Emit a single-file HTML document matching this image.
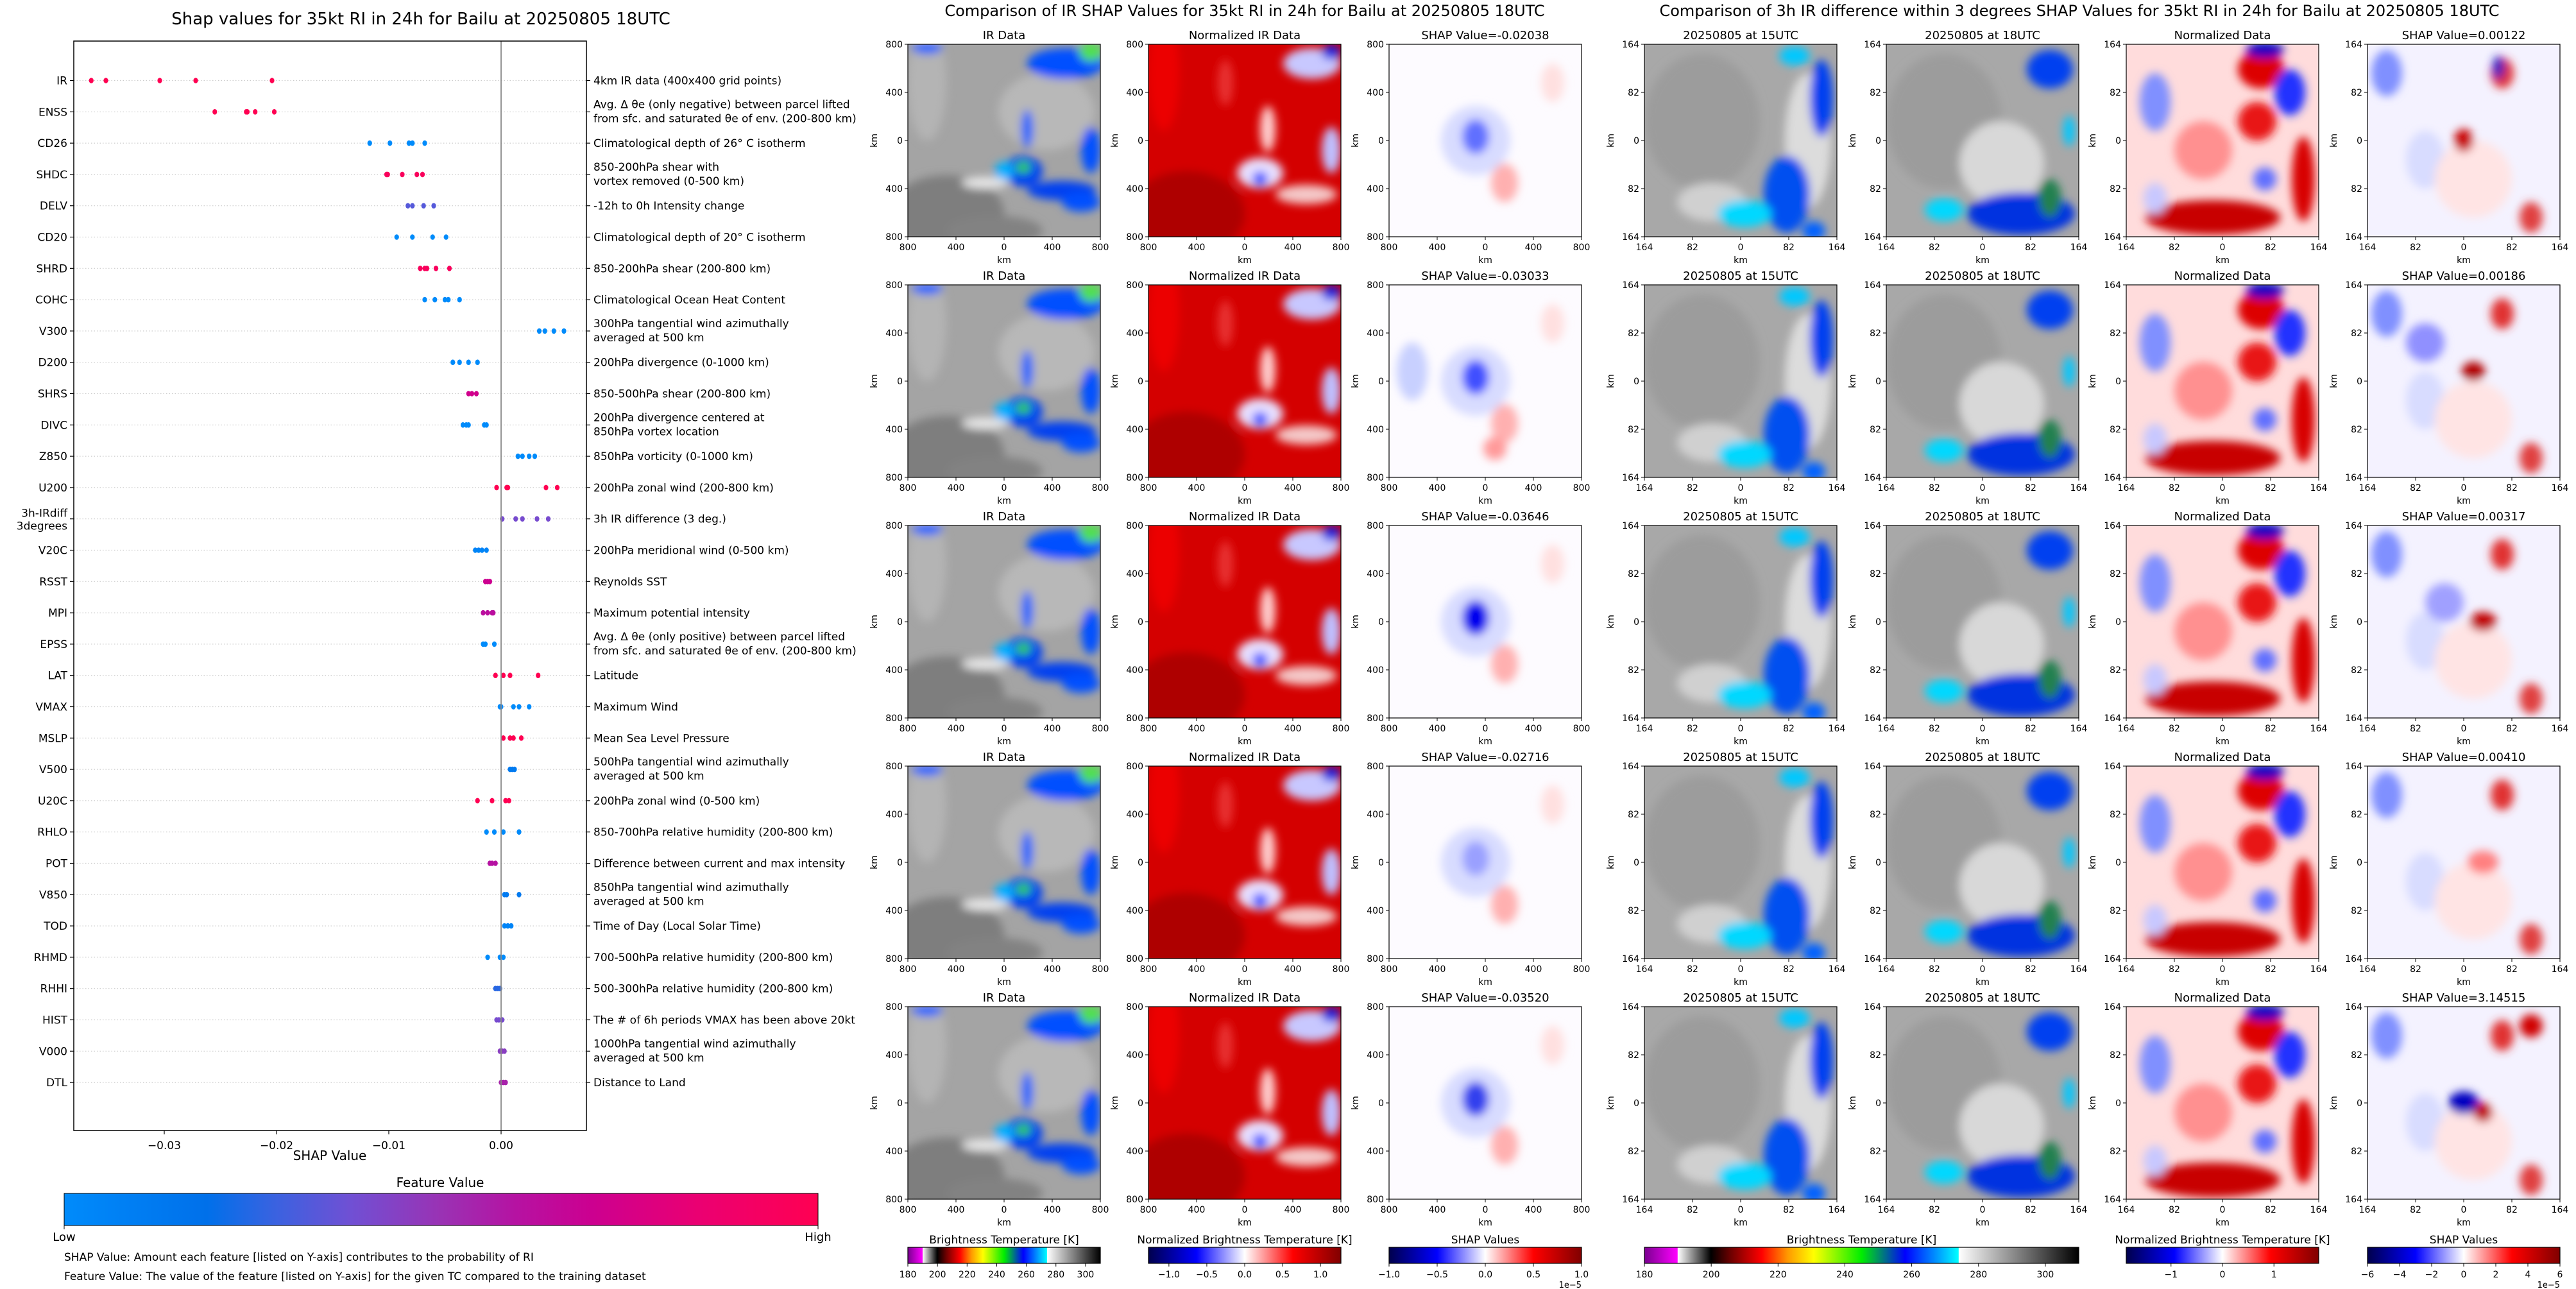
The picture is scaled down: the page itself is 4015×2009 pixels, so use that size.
<!DOCTYPE html>
<html><head><meta charset="utf-8">
<style>
html,body{margin:0;padding:0;background:#fff;}
svg{display:block;font-family:"DejaVu Sans","Liberation Sans",sans-serif;}
</style></head>
<body>
<svg id="root" width="4015" height="2009" viewBox="0 0 4015 2009" xmlns="http://www.w3.org/2000/svg">
<defs>
<filter id="blur" x="-50%" y="-50%" width="200%" height="200%"><feGaussianBlur stdDeviation="7"/></filter>
<linearGradient id="featgrad" x1="0" x2="1" y1="0" y2="0">
<stop offset="0" stop-color="#008bfb"/><stop offset="0.19" stop-color="#0070ea"/><stop offset="0.28" stop-color="#3a62e0"/><stop offset="0.38" stop-color="#7050d4"/><stop offset="0.5" stop-color="#9a32b4"/><stop offset="0.6" stop-color="#b612a2"/><stop offset="0.7" stop-color="#cc0090"/><stop offset="0.85" stop-color="#ec0070"/><stop offset="1" stop-color="#ff0052"/>
</linearGradient>
<linearGradient id="btgrad" x1="0" x2="1" y1="0" y2="0">
<stop offset="0" stop-color="#7a0090"/><stop offset="0.076" stop-color="#ff00ff"/><stop offset="0.077" stop-color="#ffffff"/><stop offset="0.153" stop-color="#000000"/><stop offset="0.2" stop-color="#700000"/><stop offset="0.27" stop-color="#ff0000"/><stop offset="0.33" stop-color="#ff9900"/><stop offset="0.39" stop-color="#ffff00"/><stop offset="0.5" stop-color="#00ee00"/><stop offset="0.6" stop-color="#0000ff"/><stop offset="0.67" stop-color="#0090ff"/><stop offset="0.723" stop-color="#00ffff"/><stop offset="0.724" stop-color="#ffffff"/><stop offset="1" stop-color="#000000"/>
</linearGradient>
<linearGradient id="seisgrad" x1="0" x2="1" y1="0" y2="0">
<stop offset="0" stop-color="#00004c"/><stop offset="0.25" stop-color="#0000ff"/><stop offset="0.5" stop-color="#ffffff"/><stop offset="0.75" stop-color="#ff0000"/><stop offset="1" stop-color="#800000"/>
</linearGradient>
</defs>
<g id="layer"></g>
</svg>
<script>
// ---------- SHAP summary data ----------
const features = ["IR","ENSS","CD26","SHDC","DELV","CD20","SHRD","COHC","V300","D200","SHRS","DIVC","Z850","U200","3h-IRdiff|3degrees","V20C","RSST","MPI","EPSS","LAT","VMAX","MSLP","V500","U20C","RHLO","POT","V850","TOD","RHMD","RHHI","HIST","V000","DTL"];
const featureDescriptions = ["4km IR data (400x400 grid points)","Avg. Δ θe (only negative) between parcel lifted|from sfc. and saturated θe of env. (200-800 km)","Climatological depth of 26° C isotherm","850-200hPa shear with|vortex removed (0-500 km)","-12h to 0h Intensity change","Climatological depth of 20° C isotherm","850-200hPa shear (200-800 km)","Climatological Ocean Heat Content","300hPa tangential wind azimuthally|averaged at 500 km","200hPa divergence (0-1000 km)","850-500hPa shear (200-800 km)","200hPa divergence centered at|850hPa vortex location","850hPa vorticity (0-1000 km)","200hPa zonal wind (200-800 km)","3h IR difference (3 deg.)","200hPa meridional wind (0-500 km)","Reynolds SST","Maximum potential intensity","Avg. Δ θe (only positive) between parcel lifted|from sfc. and saturated θe of env. (200-800 km)","Latitude","Maximum Wind","Mean Sea Level Pressure","500hPa tangential wind azimuthally|averaged at 500 km","200hPa zonal wind (0-500 km)","850-700hPa relative humidity (200-800 km)","Difference between current and max intensity","850hPa tangential wind azimuthally|averaged at 500 km","Time of Day (Local Solar Time)","700-500hPa relative humidity (200-800 km)","500-300hPa relative humidity (200-800 km)","The # of 6h periods VMAX has been above 20kt","1000hPa tangential wind azimuthally|averaged at 500 km","Distance to Land"];
const shapValues = [
[-0.0365,-0.0352,-0.0304,-0.0272,-0.0204],
[-0.0255,-0.0227,-0.0226,-0.0219,-0.0202],
[-0.0117,-0.0099,-0.0082,-0.0079,-0.0068],
[-0.0102,-0.0101,-0.0088,-0.0075,-0.0070],
[-0.0083,-0.0079,-0.0069,-0.0060],
[-0.0093,-0.0079,-0.0061,-0.0049],
[-0.0072,-0.0068,-0.0066,-0.0058,-0.0046],
[-0.0068,-0.0059,-0.0050,-0.0047,-0.0037],
[0.0034,0.0039,0.0047,0.0056],
[-0.0043,-0.0037,-0.0029,-0.0021],
[-0.0029,-0.0026,-0.0022],
[-0.0034,-0.0031,-0.0029,-0.0015,-0.0013],
[0.0015,0.0019,0.0025,0.0030],
[-0.0004,0.0005,0.0006,0.0040,0.0050],
[0.0001,0.0013,0.0019,0.0032,0.0042],
[-0.0023,-0.0020,-0.0017,-0.0013],
[-0.0014,-0.0012,-0.0010],
[-0.0016,-0.0012,-0.0008,-0.0007],
[-0.0016,-0.0014,-0.0006],
[-0.0005,0.0002,0.0008,0.0033],
[-0.0001,0.0000,0.0011,0.0016,0.0025],
[0.0002,0.0008,0.0011,0.0018],
[0.0008,0.0010,0.0012],
[-0.0021,-0.0008,0.0004,0.0007],
[-0.0013,-0.0006,0.0002,0.0016],
[-0.0010,-0.0008,-0.0005],
[0.0003,0.0005,0.0016],
[0.0003,0.0006,0.0009],
[-0.0012,-0.0001,0.0002],
[-0.0005,-0.0003,-0.0001],
[-0.0004,-0.0002,0.0001],
[-0.0001,0.0001,0.0003],
[0.0000,0.0002,0.0004]];
const featureLevels = [1,1,0,0.95,0.33,0,0.95,0,0,0,0.72,0,0,1,0.4,0.05,0.7,0.62,0,1,0,1,0.12,1,0,0.6,0.12,0.05,0,0.25,0.4,0.45,0.55];
const xTicks = [-0.03,-0.02,-0.01,0.00];
const xTickLabels = ["\u22120.03","\u22120.02","\u22120.01","0.00"];

// ---------- colorbar tick data ----------
const btTicks = [180,200,220,240,260,280,300];
const normTicksMid = [-1.0,-0.5,0.0,0.5,1.0];
const shapTicksMid = [-1.0,-0.5,0.0,0.5,1.0];
const normTicksRight = [-1,0,1];
const shapTicksRight = [-6,-4,-2,0,2,4,6];
const midShapTitles = ["-0.02038","-0.03033","-0.03646","-0.02716","-0.03520"];
const rightShapTitles = ["0.00122","0.00186","0.00317","0.00410","3.14515"];

const NS="http://www.w3.org/2000/svg";
const layer=document.getElementById('layer');
function mk(tag,attrs,parent){const e=document.createElementNS(NS,tag);for(const k in attrs)e.setAttribute(k,attrs[k]);(parent||layer).appendChild(e);return e;}
function txt(s,x,y,size,anchor,parent,extra){const t=mk('text',Object.assign({x:x,y:y,'font-size':size,'text-anchor':anchor||'start',fill:'#000'},extra||{}),parent);t.textContent=s;return t;}

const cstops=[[0,[0,139,251]],[0.19,[0,112,234]],[0.28,[58,98,224]],[0.38,[112,80,212]],[0.5,[154,50,180]],[0.6,[182,18,162]],[0.7,[204,0,144]],[0.85,[236,0,112]],[1,[255,0,82]]];
function fcol(v){for(let i=1;i<cstops.length;i++){if(v<=cstops[i][0]){const a=cstops[i-1],b=cstops[i];const t=(v-a[0])/(b[0]-a[0]);const c=a[1].map((x,j)=>Math.round(x+(b[1][j]-x)*t));return `rgb(${c})`;}}return 'rgb(255,0,82)';}

// ---------- left chart ----------
const PL=115,PR=914,PT=64,PB=1762;
const xScale=v=>781+v*17500;
const rowY=i=>125.5+i*48.8;
const left=mk('g',{});


const t1=txt("Shap values for 35kt RI in 24h for Bailu at 20250805 18UTC",656,38,26,'middle',left);


features.forEach((f,i)=>{
  const y=rowY(i);
  mk('line',{x1:PL,x2:PR,y1:y,y2:y,stroke:'#ccc','stroke-width':1.2,'stroke-dasharray':'1.5,3'},left);
  mk('line',{x1:PL-6,x2:PL,y1:y,y2:y,stroke:'#000','stroke-width':1.2},left);
  mk('line',{x1:PR,x2:PR+6,y1:y,y2:y,stroke:'#000','stroke-width':1.2},left);
  const parts=f.split('|');
  const lab=mk('g',{},left);
  
  
  if(parts.length===1)txt(parts[0],PL-10,y+6,17,'end',lab);
  else{txt(parts[0],PL-10,y-3,17,'end',lab);txt(parts[1],PL-10,y+17,17,'end',lab);}
  const d=featureDescriptions[i].split('|');
  const dg=mk('g',{},left);
  
  
  if(d.length===1)txt(d[0],PR+11,y+6,17,'start',dg);
  else{txt(d[0],PR+11,y-6,17,'start',dg);txt(d[1],PR+11,y+16,17,'start',dg);}
  const col=fcol(featureLevels[i]);
  shapValues[i].forEach(v=>{
    const c=mk('ellipse',{cx:xScale(v),cy:y,rx:3.6,ry:4.3,fill:col},left);
    
    
  });
});
mk('line',{x1:xScale(0),x2:xScale(0),y1:PT,y2:PB,stroke:'#888','stroke-width':1.8},left);
const frame=mk('rect',{x:PL,y:PT,width:PR-PL,height:PB-PT,fill:'none',stroke:'#000','stroke-width':1.5},left);


xTicks.forEach((v,i)=>{
  const x=xScale(v);
  mk('line',{x1:x,x2:x,y1:PB,y2:PB+6,stroke:'#000','stroke-width':1.2},left);
  const tl=txt(xTickLabels[i],x,PB+29,17,'middle',left);
  
  
});
const xl=txt("SHAP Value",514,1808,20,'middle',left);


const fvt=txt("Feature Value",686,1850,20,'middle',left);


const fcb=mk('rect',{x:100,y:1860,width:1175,height:50,fill:'url(#featgrad)',stroke:'#000','stroke-width':1},left);


mk('line',{x1:100,x2:100,y1:1910,y2:1916,stroke:'#000'},left);
mk('line',{x1:1275,x2:1275,y1:1910,y2:1916,stroke:'#000'},left);
const lo=txt("Low",100,1934,18,'middle',left);


const hi=txt("High",1275,1934,18,'middle',left);


const n1=txt("SHAP Value: Amount each feature [listed on Y-axis] contributes to the probability of RI",100,1965,17,'start',left);


const n2=txt("Feature Value: The value of the feature [listed on Y-axis] for the given TC compared to the training dataset",100,1995,17,'start',left);



// ---------- image panels ----------
const rowTops=[69,444,819,1194,1569];
const midCols=[1415,1790,2165];
const rightCols=[2563,2940,3314,3690];
const S=300;
let clipId=0;
const blobSets={
 ir:{base:'#a4a4a4',blobs:[[0.2,0.88,0.3,0.2,'#7e7e7e'],[0.72,0.35,0.25,0.2,'#b8b8b8'],[0.1,0.2,0.1,0.3,'#b4b4b4'],[0.45,0.97,0.25,0.08,'#828282'],[0.6,0.66,0.1,0.08,'#0040f0'],[0.5,0.66,0.05,0.05,'#00b0ff'],[0.8,0.76,0.18,0.05,'#0040f0'],[0.9,0.82,0.1,0.05,'#0050ff'],[0.82,0.1,0.2,0.08,'#0050ff'],[0.95,0.04,0.06,0.05,'#50e050'],[0.95,0.55,0.05,0.12,'#0050ff'],[0.6,0.64,0.04,0.03,'#30d030'],[0.62,0.44,0.03,0.1,'#0060ff'],[0.4,0.72,0.12,0.03,'#e8e8e8'],[0.1,0.02,0.08,0.03,'#0060ff']]},
 norm:{base:'#d40000',blobs:[[0.2,0.88,0.3,0.22,'#ae0000'],[0.08,0.15,0.08,0.3,'#ec0000'],[0.58,0.67,0.12,0.08,'#e8e0ff'],[0.58,0.7,0.04,0.04,'#4050ff'],[0.82,0.78,0.16,0.05,'#f4c8c8'],[0.85,0.1,0.15,0.08,'#c8c8ff'],[0.95,0.04,0.05,0.04,'#2020e0'],[0.95,0.55,0.05,0.12,'#c0c0ff'],[0.62,0.44,0.04,0.12,'#ffd0d0'],[0.4,0.2,0.04,0.12,'#e83030']]},
 ir15:{base:'#a8a8a8',blobs:[[0.3,0.4,0.3,0.35,'#9c9c9c'],[0.85,0.5,0.12,0.35,'#dcdcdc'],[0.35,0.82,0.18,0.1,'#d0d0d0'],[0.74,0.78,0.12,0.2,'#0050f0'],[0.52,0.88,0.14,0.07,'#00d8ff'],[0.92,0.28,0.06,0.2,'#0040f0'],[0.78,0.06,0.08,0.05,'#00c8ff'],[0.88,0.97,0.06,0.05,'#0060ff']]},
 ir18:{base:'#a8a8a8',blobs:[[0.3,0.4,0.3,0.35,'#9c9c9c'],[0.6,0.62,0.22,0.22,'#d8d8d8'],[0.85,0.13,0.12,0.1,'#0040f0'],[0.7,0.88,0.28,0.11,'#0030e0'],[0.3,0.86,0.1,0.06,'#00d8ff'],[0.85,0.8,0.06,0.1,'#208050'],[0.95,0.45,0.03,0.08,'#00c8ff']]},
 normR:{base:'#ffdcdc',blobs:[[0.7,0.13,0.12,0.1,'#dd0000'],[0.72,0.03,0.1,0.04,'#0000c0'],[0.85,0.25,0.08,0.12,'#2030ff'],[0.68,0.4,0.1,0.1,'#e81818'],[0.45,0.9,0.35,0.09,'#c80000'],[0.92,0.7,0.06,0.22,'#d80000'],[0.15,0.3,0.08,0.15,'#8090ff'],[0.72,0.7,0.06,0.06,'#6070ff'],[0.4,0.55,0.15,0.15,'#ff9090'],[0.15,0.8,0.06,0.08,'#c8c8ff']]}
};
function shapBlobs(row,right){
  if(right){
    const b=[[0.1,0.15,0.08,0.12,'#8090ff'],[0.7,0.15,0.06,0.08,'#e03030'],[0.3,0.6,0.1,0.15,'#d8dcff'],[0.85,0.9,0.06,0.08,'#e04040'],[0.55,0.7,0.2,0.2,'#ffe4e4']];
    if(row===0) b.push([0.5,0.5,0.05,0.06,'#c80000'],[0.68,0.12,0.03,0.06,'#2020c0']);
    if(row===1) b.push([0.55,0.45,0.06,0.05,'#b00000'],[0.3,0.3,0.1,0.1,'#9090ff']);
    if(row===2) b.push([0.6,0.5,0.07,0.05,'#c00000'],[0.4,0.4,0.1,0.1,'#a0a0ff']);
    if(row===3) b.push([0.6,0.5,0.08,0.06,'#ff8080']);
    if(row===4) b.push([0.5,0.5,0.08,0.06,'#0000c0'],[0.6,0.55,0.05,0.05,'#c00000'],[0.85,0.1,0.06,0.06,'#d00000']);
    return {base:'#f4f2ff',blobs:b};
  }
  const strength=['#6070ff','#4050ff','#0000ee','#9aa0ff','#3040ee'][row];
  const b=[[0.45,0.5,0.18,0.18,'#d8dcff'],[0.45,0.48,0.07,0.09,strength],[0.6,0.72,0.07,0.1,'#ffb0b0'],[0.85,0.2,0.06,0.1,'#ffe0e0']];
  if(row===1) b.push([0.12,0.45,0.08,0.15,'#c8d0ff'],[0.55,0.85,0.06,0.06,'#ff9a9a']);
  return {base:'#fdfbff',blobs:b};
}
function panel(x,y,spec,title,ticks,name){
  const g=mk('g',{});
  
  
  const id='c'+(clipId++);
  const cp=mk('clipPath',{id:id},g);
  mk('rect',{x:x,y:y,width:S,height:S},cp);
  const ig=mk('g',{'clip-path':`url(#${id})`},g);
  mk('rect',{x:x,y:y,width:S,height:S,fill:spec.base},ig);
  const bg=mk('g',{filter:'url(#blur)'},ig);
  spec.blobs.forEach(b=>mk('ellipse',{cx:x+b[0]*S,cy:y+b[1]*S,rx:b[2]*S,ry:b[3]*S,fill:b[4]},bg));
  mk('rect',{x:x,y:y,width:S,height:S,fill:'none',stroke:'#000','stroke-width':1.2},g);
  const tt=txt(title,x+S/2,y-8,18,'middle',g);
  
  
  ticks.forEach((t,i)=>{
    const p=i*S/4;
    mk('line',{x1:x-5,x2:x,y1:y+p,y2:y+p,stroke:'#000'},g);
    txt(t,x-8,y+p+5,14,'end',g);
    mk('line',{x1:x+p,x2:x+p,y1:y+S,y2:y+S+5,stroke:'#000'},g);
    txt(t,x+p,y+S+21,14,'middle',g);
  });
  txt('km',x+S/2,y+S+41,14,'middle',g);
  txt('km',x-48,y+S/2,14,'middle',g,{transform:`rotate(-90 ${x-48} ${y+S/2})`});
}
const midTicks=['800','400','0','400','800'];
const rTicks=['164','82','0','82','164'];
rowTops.forEach((top,r)=>{
  panel(midCols[0],top,blobSets.ir,'IR Data',midTicks,'ir-data-panel');
  panel(midCols[1],top,blobSets.norm,'Normalized IR Data',midTicks,'normalized-ir-panel');
  panel(midCols[2],top,shapBlobs(r,false),'SHAP Value='+midShapTitles[r],midTicks,'ir-shap-panel');
  panel(rightCols[0],top,blobSets.ir15,'20250805 at 15UTC',rTicks,'ir-15utc-panel');
  panel(rightCols[1],top,blobSets.ir18,'20250805 at 18UTC',rTicks,'ir-18utc-panel');
  panel(rightCols[2],top,blobSets.normR,'Normalized Data',rTicks,'normalized-diff-panel');
  panel(rightCols[3],top,shapBlobs(r,true),'SHAP Value='+rightShapTitles[r],rTicks,'diff-shap-panel');
});
const st1=txt("Comparison of IR SHAP Values for 35kt RI in 24h for Bailu at 20250805 18UTC",1940,25,24,'middle');


const st2=txt("Comparison of 3h IR difference within 3 degrees SHAP Values for 35kt RI in 24h for Bailu at 20250805 18UTC",3241,25,24,'middle');



// ---------- colorbars ----------
function cbar(x,w,grad,title,ticks,lo,hi,labelFn,name,exp){
  const g=mk('g',{});
  
  
  txt(title,x+w/2,1938,17,'middle',g);
  mk('rect',{x:x,y:1944,width:w,height:25,fill:`url(#${grad})`,stroke:'#000','stroke-width':1.2},g);
  ticks.forEach(t=>{
    const px=x+(t-lo)/(hi-lo)*w;
    mk('line',{x1:px,x2:px,y1:1969,y2:1974,stroke:'#000'},g);
    txt(labelFn(t),px,1991,14,'middle',g);
  });
  if(exp)txt('1e\u22125',x+w,2007,13,'end',g);
}
const f1=t=>(t<0?'\u2212':'')+Math.abs(t).toFixed(1);
const f0=t=>(t<0?'\u2212':'')+Math.abs(t);
cbar(1415,300,'btgrad','Brightness Temperature [K]',btTicks,180,310,t=>String(t),'brightness-colorbar-mid',false);
cbar(1790,300,'seisgrad','Normalized Brightness Temperature [K]',normTicksMid,-1.27,1.27,f1,'normalized-colorbar-mid',false);
cbar(2165,300,'seisgrad','SHAP Values',shapTicksMid,-1,1,f1,'shap-colorbar-mid',true);
cbar(2563,677,'btgrad','Brightness Temperature [K]',btTicks,180,310,t=>String(t),'brightness-colorbar-right',false);
cbar(3314,300,'seisgrad','Normalized Brightness Temperature [K]',normTicksRight,-1.87,1.87,f0,'normalized-colorbar-right',false);
cbar(3690,300,'seisgrad','SHAP Values',shapTicksRight,-6,6,f0,'shap-colorbar-right',true);
</script>
</body></html>
